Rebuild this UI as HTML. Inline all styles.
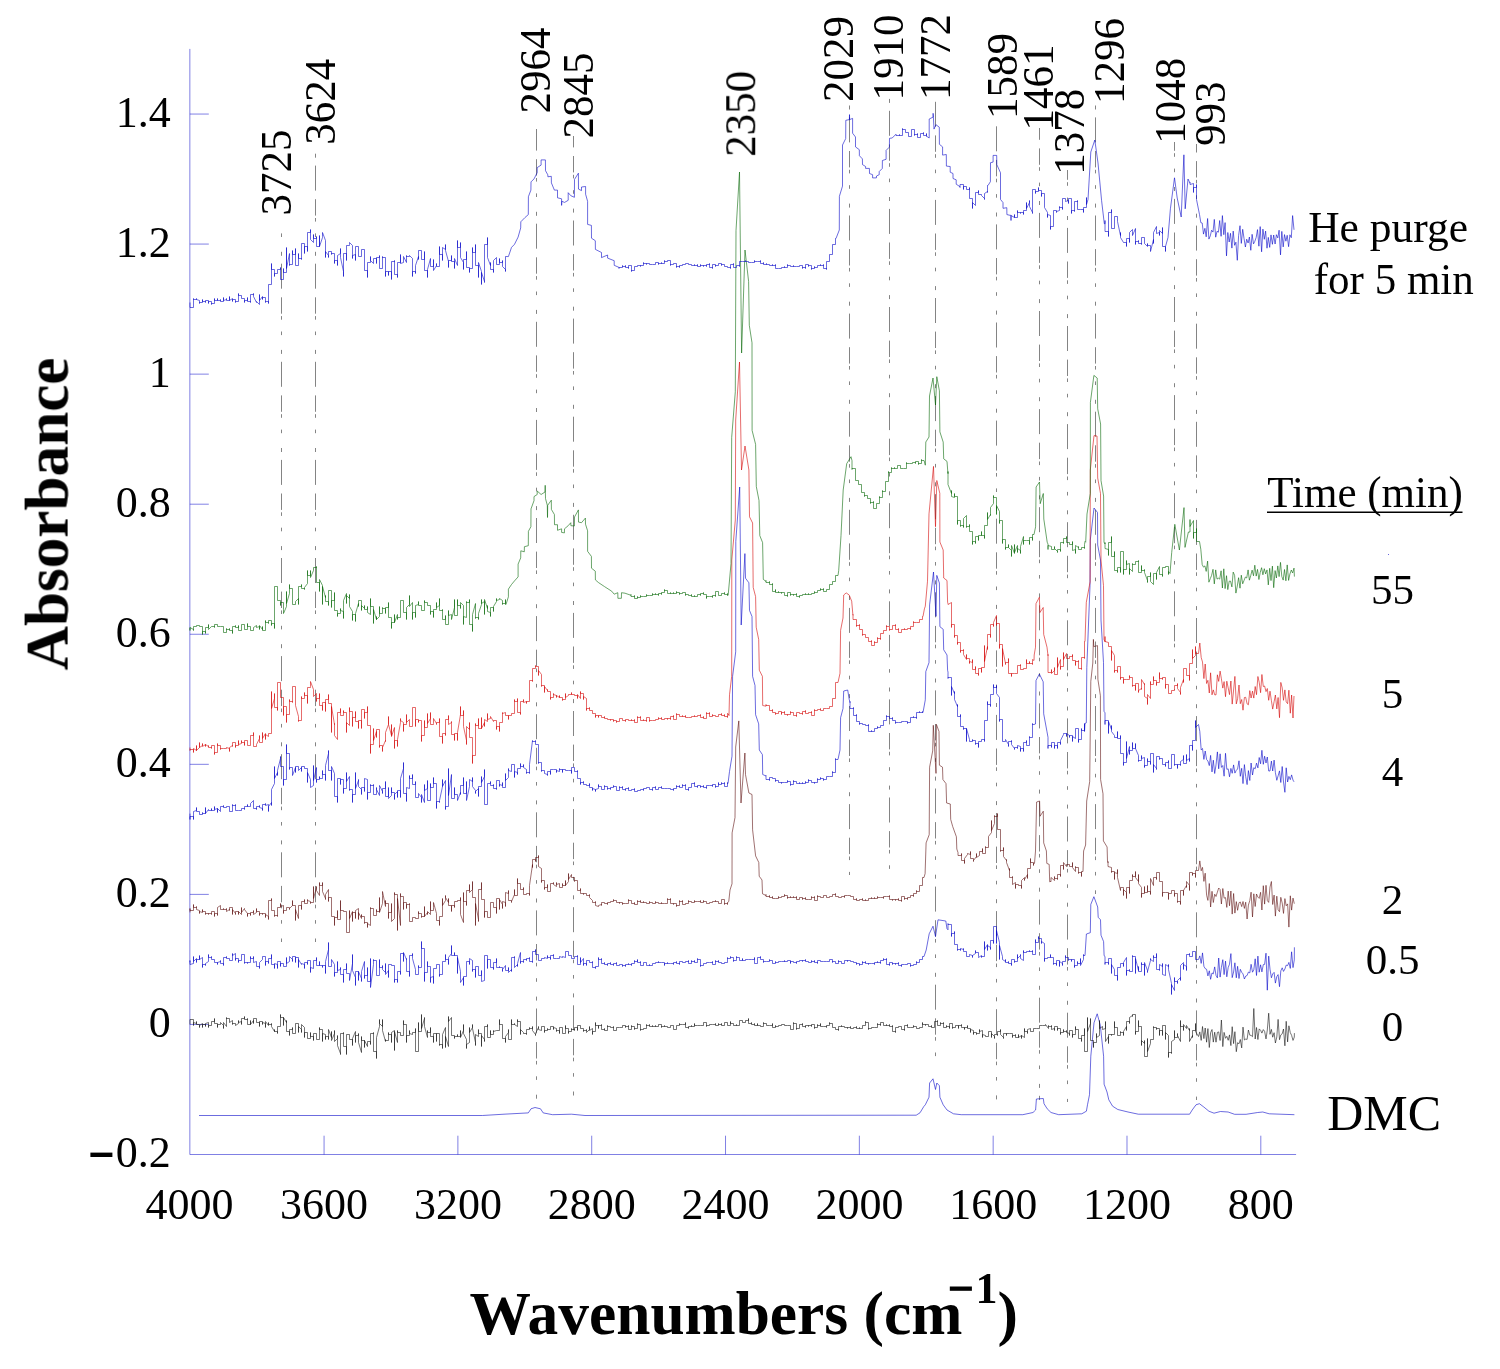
<!DOCTYPE html>
<html><head><meta charset="utf-8"><title>FTIR spectra</title>
<style>
html,body{margin:0;padding:0;background:#fff;overflow:hidden;}
svg{display:block;}
text{font-family:"Liberation Serif",serif;fill:#000;}
.tk{font-size:44px;}
.pk{font-size:43px;}
.sp{fill:none;stroke-width:0.58;stroke-linejoin:miter;}
.ax{fill:none;stroke:#0000c8;stroke-width:0.5;}
.vl{fill:none;stroke:#222;stroke-width:0.56;stroke-dasharray:25 8.6 16.4 2.4 3.6 11.8 3.6 14.8 4 7.9;}
</style></head><body>
<svg width="1500" height="1369" viewBox="0 0 1500 1369">
<rect width="1500" height="1369" fill="#fff"/>
<g class="ax">
<path d="M189.85 48.9V1154.5H1296.1"/>
<path d="M189.9 114.05H208.8M189.9 244.07H208.8M189.9 374.14H208.8M189.9 504.20H208.8M189.9 634.26H208.8M189.9 764.32H208.8M189.9 894.38H208.8M189.9 1024.44H208.8"/>
<path d="M324.07 1154.5V1135.7M457.89 1154.5V1135.7M591.71 1154.5V1135.7M725.53 1154.5V1135.7M859.35 1154.5V1135.7M993.17 1154.5V1135.7M1126.99 1154.5V1135.7M1260.80 1154.5V1135.7"/>
</g>
<g class="vl">
<path d="M281.5 230V942" stroke-dashoffset="64.4"/>
<path d="M315.5 150V942" stroke-dashoffset="82.5"/>
<path d="M536.5 129V1102" stroke-dashoffset="3.4"/>
<path d="M573.5 136V1097" stroke-dashoffset="13.6"/>
<path d="M849.5 103.5V875" stroke-dashoffset="84.2"/>
<path d="M889.5 97V875" stroke-dashoffset="84.3"/>
<path d="M935.5 96V1070" stroke-dashoffset="92.3"/>
<path d="M996.5 125V1100" stroke-dashoffset="96.8"/>
<path d="M1039.5 128V1100" stroke-dashoffset="13.2"/>
<path d="M1067.5 170V1102" stroke-dashoffset="40.2"/>
<path d="M1095.5 103.8V894" stroke-dashoffset="84.5"/>
<path d="M1174.5 142V690" stroke-dashoffset="41.2"/>
<path d="M1196.5 144V1100" stroke-dashoffset="16.5"/>
</g>
<path class="sp" stroke="#0000c8" d="M199 1115.5L482.4 1115.5L504 1114.2L528.3 1112.9L531 1108.8L535 1107.5L540.5 1108.8L543.2 1112.9L552.6 1114.7L571.5 1114.2L585 1115.5L916.2 1115.2L920 1112.8L923.8 1106.5L925.3 1104.8L929 1097.2L929.6 1083L933 1078.8L935.5 1089.5L936.8 1083L939.4 1085.7L939.9 1097.2L943.2 1104.8L947 1110L953.5 1113.8L961.2 1114.7L1022.8 1114.7L1033 1112.5L1035.6 1110L1036.4 1099L1043.3 1098.5L1044 1103.7L1047.2 1108.8L1051 1112.5L1058.7 1114.7L1081.8 1113.8L1086.4 1111.2L1087.5 1104.8L1089.5 1094.7L1090.8 1056.2L1094 1022.8L1097.2 1013.8L1100.3 1025.2L1103.6 1056.2L1104.1 1084.2L1107 1092L1108.8 1099.8L1112.6 1106.2L1117.8 1109.5L1128 1112L1138.3 1114.2L1189.6 1114.2L1192.2 1110L1196 1104.8L1199.4 1103.7L1203.8 1107L1208.9 1111.2L1214 1113.2L1220.4 1111.5L1228.1 1112L1234.6 1114.3L1246.1 1114.3L1257.7 1112.5L1262.8 1112L1269.2 1113.8L1294.4 1114.7"/>
<path class="sp" stroke="#101010" d="M190 1024.4V1019.5H193.5V1025.5V1022.5L196.5 1023.5V1021.5V1024.5H199.5V1027.5V1025.5L202.5 1023.5V1027.5V1024.5H205.5V1026.5V1023.5L208.5 1022.5V1027.5V1025.5H211.5V1021.5H214.5V1018.5V1023.5H217.5V1027.5V1024.5H220.5V1024.5V1022.5L223.5 1025.5V1028.5V1022.5L226.5 1026.5V1017.5V1018.5H229.5V1022.5V1022.5L232.5 1020.5V1024.5V1023.5H235.5V1025.5V1025.5L238.5 1023.5V1020.5V1022.5L241.5 1021.5V1024.5V1018.5L244.5 1018.5V1016.5V1019.5H247.5V1018.5V1024.5H250.5V1020.5V1024.5L253.5 1020.5V1023.5V1018.5H256.5V1022.5H259.5V1026.5V1021.5L262.5 1021.5V1024.5V1022.5L265.5 1023.5V1027.5V1021.5L268.5 1025.5V1022.5V1024.5H271.5V1023.5V1026.5L274.5 1031.5V1029.5V1031.5H277.5V1033.5V1026.5H280.5V1014.5V1017.5H283.5V1025.5V1017.5L286.5 1022.5V1020.5V1031.5H289.5V1035.5V1029.5H292.5V1027.5V1033.5H295.5V1023.5V1023.5H298.5V1032.5V1026.5L301.5 1029.5V1032.5V1024.5L304.5 1027.5V1037.5V1032.5H307.5V1038.5V1038.5H310.5V1032.5V1036.5H313.5V1040.5V1033.5H316.5V1033.5V1039.5H319.5V1027.5V1029.5H322.5V1041.5V1033.5L325.5 1034.5V1039.5V1036.5H328.5V1039.5V1029.5L331.5 1037.5V1031.5V1040.5L334.5 1033.5V1030.5V1041.5L337.5 1038.5V1035.5V1045.5L340.5 1053.5V1054.5V1033.5H343.5V1032.5V1046.5H346.5V1054.5V1034.5H349.5V1039.5H352.5V1045.5V1038.5L355.5 1031.5V1042.5V1035.5H358.5V1033.5V1042.5L361.5 1052.5V1036.5V1040.5H364.5V1047.5V1040.5L367.5 1046.5V1041.5H370.5V1044.5V1033.5H373.5V1032.5V1051.5H376.5V1058.5V1037.5L379.5 1026.5V1019.5V1023.5L382.5 1026.5V1019.5V1030.5L385.5 1041.5V1039.5V1040.5H388.5V1032.5V1034.5H391.5V1042.5V1032.5L394.5 1030.5V1050.5V1031.5L397.5 1042.5V1030.5V1032.5H400.5V1035.5H403.5V1020.5V1024.5H406.5V1042.5V1035.5H409.5V1030.5V1033.5L412.5 1034.5V1032.5H415.5V1028.5V1051.5H418.5V1022.5V1031.5H421.5V1014.5V1028.5L424.5 1018.5V1017.5V1026.5L427.5 1037.5V1030.5V1032.5L430.5 1032.5V1027.5V1036.5H433.5V1042.5V1033.5H436.5V1041.5V1033.5H439.5V1045.5V1044.5H442.5V1048.5V1034.5L445.5 1027.5V1047.5V1036.5L448.5 1046.5V1016.5V1021.5L451.5 1017.5V1035.5V1035.5H454.5V1038.5V1036.5H457.5V1034.5V1036.5L460.5 1036.5V1030.5V1037.5L463.5 1030.5V1024.5V1033.5L466.5 1039.5V1048.5V1044.5L469.5 1042.5V1027.5V1032.5L472.5 1027.5V1024.5V1028.5L475.5 1042.5V1045.5V1034.5L478.5 1036.5V1029.5V1033.5H481.5V1046.5V1035.5L484.5 1039.5V1041.5V1026.5H487.5V1024.5V1037.5H490.5V1030.5V1034.5H493.5V1030.5V1031.5L496.5 1030.5V1030.5V1030.5H499.5V1019.5V1024.5H502.5V1038.5H505.5V1042.5V1036.5L508.5 1032.5V1029.5V1039.5H511.5V1019.5V1024.5H514.5V1023.5V1024.5L517.5 1026.5V1019.5V1021.5L520.5 1021.5V1034.5V1029.5L523.5 1032.5V1033.5H526.5V1034.5V1029.5H529.5V1027.5V1028.5L532.5 1028.5V1026.5V1030.5L535.5 1034.5V1035.5V1033.5L538.5 1027.5V1026.5V1029.5L541.5 1030.5V1030.5V1026.5H544.5V1032.5V1030.5H547.5V1028.5V1029.5H550.5V1029.5V1026.5H553.5V1029.5V1027.5L556.5 1028.5V1031.5V1030.5H559.5V1033.5V1027.5H562.5V1033.5H565.5V1025.5V1028.5H568.5V1033.5V1031.5H571.5V1028.5V1029.5H574.5V1030.5V1027.5H577.5V1030.5V1025.5H580.5V1028.5V1028.5H583.5V1031.5V1030.5H586.5V1029.5V1032.5L589.5 1029.5V1026.5V1030.5L592.5 1028.5V1034.5V1031.5H595.5V1022.5V1025.5H598.5V1028.5V1025.5H601.5V1024.5V1029.5H604.5V1028.5V1030.5H607.5V1025.5V1026.5H610.5V1027.5V1027.5H613.5V1026.5V1030.5H616.5V1030.5V1027.5H619.5V1027.5V1027.5H622.5V1027.5V1025.5H625.5V1027.5V1026.5H628.5V1025.5V1029.5H631.5V1025.5V1026.5H634.5V1029.5V1028.5H637.5V1023.5V1024.5H640.5V1030.5V1029.5H643.5V1029.5V1028.5H646.5V1024.5V1025.5H649.5V1024.5V1026.5H652.5V1025.5V1026.5H655.5V1025.5V1026.5H658.5V1024.5H661.5V1027.5V1026.5H664.5V1025.5V1026.5H667.5V1026.5V1027.5H670.5V1025.5V1025.5H673.5V1029.5H676.5V1029.5V1025.5H679.5V1023.5V1024.5H682.5V1024.5V1024.5H685.5V1022.5V1027.5H688.5V1028.5V1026.5H691.5V1025.5V1026.5H694.5V1023.5V1025.5H697.5V1025.5H700.5V1025.5H703.5V1025.5V1022.5H706.5V1026.5V1025.5H709.5V1024.5V1024.5H712.5V1024.5H715.5V1023.5V1025.5H718.5V1023.5V1024.5H721.5V1023.5V1025.5H724.5V1022.5V1022.5H727.5V1022.5V1025.5H730.5V1021.5V1023.5H733.5V1025.5V1025.5H736.5V1024.5V1025.5H739.5V1020.5H742.5V1020.5V1022.5H745.5V1020.5V1020.5H748.5V1018.5V1023.5H751.5V1022.5V1024.5H754.5V1023.5V1025.5H757.5V1023.5V1025.5H760.5V1026.5H763.5V1022.5V1023.5H766.5V1023.5V1025.5H769.5V1025.5V1025.5H772.5V1023.5V1027.5H775.5V1025.5V1026.5H778.5V1026.5V1025.5H781.5V1024.5H784.5V1025.5H787.5V1025.5V1025.5H790.5V1029.5H793.5V1022.5V1023.5H796.5V1029.5V1028.5H799.5V1024.5V1024.5H802.5V1023.5V1026.5H805.5V1027.5V1025.5H808.5V1026.5V1025.5H811.5V1026.5V1024.5H814.5V1028.5V1027.5H817.5V1024.5V1025.5H820.5V1023.5V1026.5H823.5V1026.5V1026.5H826.5V1027.5V1025.5H829.5V1022.5V1023.5H832.5V1023.5V1027.5H835.5V1027.5V1029.5H838.5V1030.5V1026.5H841.5V1025.5V1026.5H844.5V1027.5H847.5V1028.5V1027.5H850.5V1026.5V1028.5H853.5V1027.5V1027.5H856.5V1026.5V1028.5H859.5V1027.5V1028.5H862.5V1025.5V1025.5H865.5V1021.5V1022.5H868.5V1029.5V1028.5H871.5V1028.5V1027.5H874.5V1027.5V1027.5H877.5V1023.5V1024.5H880.5V1025.5V1022.5H883.5V1022.5V1025.5H886.5V1024.5V1025.5H889.5V1024.5V1026.5H892.5V1025.5V1031.5H895.5V1032.5V1027.5H898.5V1026.5H901.5V1029.5H904.5V1030.5V1025.5H907.5V1024.5V1027.5H910.5V1027.5V1027.5H913.5V1025.5V1026.5H916.5V1026.5V1028.5H919.5V1027.5V1027.5H922.5V1022.5V1024.5H925.5V1025.5V1024.5H928.5V1026.5V1026.5H931.5V1025.5V1027.5H934.5V1021.5V1021.5H937.5V1020.5V1025.5H940.5V1022.5V1023.5H943.5V1022.5V1027.5H946.5V1025.5V1026.5L949.5 1026.5V1028.5V1023.5H952.5V1028.5V1027.5H955.5V1025.5H958.5V1028.5V1025.5H961.5V1024.5V1027.5L964.5 1027.5V1029.5V1027.5H967.5V1025.5V1028.5H970.5V1032.5V1029.5L973.5 1030.5V1034.5V1032.5H976.5V1034.5V1033.5H979.5V1029.5V1031.5L982.5 1030.5V1037.5V1034.5L985.5 1035.5V1036.5V1036.5H988.5V1031.5H991.5V1037.5V1033.5L994.5 1036.5V1038.5V1034.5H997.5V1035.5V1031.5H1000.5V1029.5V1034.5L1003.5 1037.5V1038.5V1033.5H1006.5V1035.5V1033.5H1009.5V1033.5H1012.5V1037.5V1035.5H1015.5V1034.5V1037.5L1018.5 1037.5V1034.5V1037.5L1021.5 1035.5V1038.5V1035.5L1024.5 1037.5V1028.5V1031.5H1027.5V1033.5V1029.5L1030.5 1028.5V1031.5H1033.5V1028.5H1036.5V1028.5H1039.5V1025.5V1025.5H1042.5V1025.5V1025.5H1045.5V1024.5V1024.5L1048.5 1028.5V1025.5V1026.5H1051.5V1025.5V1029.5L1054.5 1028.5V1030.5V1026.5H1057.5V1030.5V1028.5H1060.5V1034.5V1032.5H1063.5V1029.5V1031.5H1066.5V1030.5V1032.5L1069.5 1033.5V1035.5V1030.5L1072.5 1030.5V1037.5V1034.5H1075.5V1026.5V1029.5H1078.5V1038.5V1038.5H1081.5V1041.5V1035.5H1084.5V1028.5V1051.5H1087.5V1017.5V1031.5L1090.5 1023.5V1018.5V1040.5H1093.5V1047.5V1042.5H1096.5V1033.5V1037.5L1099.5 1035.5V1020.5V1028.5L1102.5 1026.5V1028.5V1029.5L1105.5 1028.5V1021.5V1041.5L1108.5 1036.5V1043.5V1034.5H1111.5V1035.5V1034.5H1114.5V1021.5V1027.5H1117.5V1035.5H1120.5V1031.5V1032.5H1123.5V1035.5V1031.5L1126.5 1026.5V1030.5V1021.5H1129.5V1023.5V1017.5L1132.5 1015.5V1016.5V1014.5H1135.5V1034.5V1031.5H1138.5V1020.5V1026.5H1141.5V1045.5V1040.5L1144.5 1043.5V1040.5V1056.5H1147.5V1038.5V1051.5L1150.5 1043.5V1039.5V1039.5H1153.5V1026.5V1027.5H1156.5V1029.5V1028.5H1159.5V1035.5V1030.5H1162.5V1035.5V1025.5H1165.5V1039.5V1032.5L1168.5 1035.5V1057.5V1052.5H1171.5V1053.5V1041.5L1174.5 1039.5V1030.5V1037.5H1177.5V1033.5V1035.5L1180.5 1041.5V1020.5V1026.5H1183.5V1030.5V1024.5L1186.5 1028.5V1026.5V1025.5L1189.5 1030.5V1028.5V1041.5L1192.5 1035.5V1037.5V1030.5H1195.5V1023.5V1031.5L1198.5 1036.5L1199.8 1031.9L1201.2 1040.4L1202.5 1026.5L1203.9 1038.6L1205.2 1028L1206.6 1042.2L1207.9 1028.6L1209.3 1047.5L1210.6 1032.7L1212 1029.5L1213.3 1042.1L1214.7 1032.2L1216 1042.2L1217.4 1032.4L1218.7 1031.9L1220.1 1040.5L1221.4 1020L1222.8 1046.6L1224.1 1032.4L1225.5 1038.3L1226.8 1036.3L1228.2 1040.3L1229.5 1034.9L1230.9 1045.6L1232.2 1026.7L1233.6 1043.6L1234.9 1031.7L1236.3 1051.7L1237.6 1042.7L1239 1043.8L1240.3 1039.5L1241.7 1047.9L1243 1027.1L1244.4 1040L1245.7 1039.1L1247.1 1039.4L1248.4 1030L1249.8 1035.2L1251.1 1035.4L1252.5 1036.7L1253.8 1008.5L1255.2 1039L1256.5 1027.5L1257.9 1039.5L1259.2 1028.9L1260.6 1030.3L1261.9 1033.1L1263.3 1029.6L1264.6 1031.3L1266 1038.9L1267.3 1030L1268.7 1013.2L1270 1034.3L1271.4 1029.4L1272.7 1037.2L1274.1 1032.7L1275.4 1043L1276.8 1037L1278.1 1019.4L1279.5 1039.7L1280.8 1034.9L1282.2 1033.8L1283.5 1029L1284.9 1045.8L1286.2 1021.3L1287.6 1041.9L1288.9 1025.8L1290.3 1032.7L1291.6 1035.3L1293 1040.4L1294.3 1037.1L1294.4 1033.1"/>
<path class="sp" stroke="#0000c8" d="M190 962.3V960.5V964.5L193.5 963.5V956.5V961.5L196.5 958.5V962.5V959.5H199.5V955.5V959.5L202.5 957.5V967.5V964.5H205.5V965.5V963.5L208.5 961.5V954.5V957.5H211.5V956.5V959.5H214.5V962.5H217.5V964.5V962.5L220.5 961.5V960.5V963.5H223.5V965.5V957.5H226.5V956.5V958.5H229.5V958.5V960.5H232.5V953.5V955.5L235.5 953.5V960.5V958.5H238.5V962.5V960.5H241.5V954.5H244.5V963.5V962.5H247.5V963.5V962.5H250.5V956.5V958.5H253.5V956.5V962.5L256.5 961.5V961.5V966.5H259.5V968.5V962.5L262.5 959.5V956.5V956.5H265.5V965.5V961.5H268.5V963.5V958.5H271.5V954.5V964.5H274.5V968.5V963.5L277.5 964.5V968.5V961.5H280.5V966.5V963.5H283.5V966.5H286.5V957.5V963.5L289.5 961.5V961.5V956.5L292.5 959.5V961.5V956.5H295.5V962.5V957.5H298.5V967.5V959.5L301.5 964.5V963.5V963.5L304.5 964.5V968.5V962.5H307.5V964.5V960.5H310.5V972.5V967.5L313.5 968.5V960.5H316.5V957.5V965.5H319.5V961.5V965.5H322.5V967.5V965.5H325.5V973.5V961.5L328.5 949.5V942.5V966.5H331.5V963.5V959.5L334.5 964.5V976.5V972.5H337.5V961.5V970.5L340.5 969.5V967.5V974.5H343.5V982.5V969.5H346.5V963.5V973.5H349.5V973.5V980.5L352.5 963.5V954.5V970.5L355.5 977.5V985.5V971.5H358.5V980.5V971.5L361.5 978.5V981.5V971.5L364.5 961.5V978.5V975.5H367.5V967.5V981.5H370.5V958.5V987.5L373.5 964.5V959.5V960.5H376.5V975.5H379.5V959.5V967.5H382.5V965.5V969.5L385.5 972.5V963.5V974.5L388.5 970.5V977.5V964.5H391.5V965.5H394.5V982.5V979.5H397.5V982.5V971.5H400.5V974.5V953.5H403.5V961.5V952.5L406.5 959.5V958.5V971.5H409.5V976.5V955.5H412.5V953.5V958.5L415.5 969.5V974.5H418.5V965.5V967.5H421.5V941.5V948.5H424.5V981.5V972.5H427.5V961.5V966.5H430.5V982.5V977.5L433.5 976.5V983.5V968.5H436.5V964.5H439.5V976.5V974.5H442.5V961.5H445.5V954.5V959.5H448.5V964.5V957.5L451.5 953.5V945.5V955.5H454.5V952.5V955.5H457.5V973.5V957.5L460.5 971.5V980.5V982.5L463.5 977.5V985.5V976.5H466.5V961.5H469.5V964.5V958.5L472.5 960.5V971.5V969.5H475.5V977.5V966.5L478.5 966.5V975.5V975.5H481.5V970.5V981.5L484.5 980.5V955.5H487.5V968.5V959.5H490.5V959.5V967.5H493.5V969.5V962.5H496.5V958.5V967.5H499.5V966.5V967.5H502.5V971.5V969.5L505.5 965.5V970.5H508.5V967.5V972.5L511.5 969.5V971.5V957.5H514.5V956.5V967.5L517.5 964.5V966.5V963.5L520.5 952.5V963.5V961.5H523.5V962.5V959.5H526.5V960.5V958.5H529.5V957.5V961.5L532.5 961.5V962.5V951.5H535.5V949.5V954.5H538.5V960.5H541.5V960.5V958.5L544.5 958.5V957.5V957.5L547.5 958.5V955.5V957.5H550.5V959.5V955.5H553.5V954.5V958.5H556.5V958.5H559.5V958.5V956.5L562.5 957.5V956.5V956.5L565.5 957.5V951.5V951.5L568.5 951.5V955.5H571.5V958.5V958.5H574.5V958.5V956.5H577.5V955.5V964.5H580.5V957.5V962.5L583.5 958.5V965.5V963.5H586.5V965.5V960.5H589.5V962.5V962.5H592.5V961.5V967.5H595.5V968.5V966.5H598.5V957.5V959.5H601.5V958.5V963.5H604.5V962.5V964.5H607.5V965.5V963.5H610.5V962.5V964.5H613.5V965.5V963.5H616.5V962.5V965.5H619.5V965.5V964.5H622.5V966.5V965.5H625.5V966.5V964.5H628.5V963.5V964.5H631.5V965.5V963.5H634.5V960.5V961.5H637.5V959.5V962.5H640.5V961.5V965.5H643.5V962.5V962.5H646.5V965.5V965.5H649.5V964.5V965.5H652.5V965.5V963.5H655.5V962.5H658.5V961.5V962.5H661.5V962.5V962.5H664.5V965.5V963.5H667.5V962.5V963.5H670.5V963.5V963.5H673.5V964.5V962.5H676.5V961.5V963.5H679.5V964.5V961.5H682.5V961.5V962.5H685.5V962.5V961.5H688.5V960.5V963.5H691.5V960.5V961.5H694.5V960.5V962.5H697.5V958.5V959.5H700.5V966.5V965.5H703.5V963.5V963.5H706.5V962.5V962.5H709.5V962.5V962.5H712.5V961.5V964.5H715.5V960.5V961.5H718.5V960.5V962.5H721.5V962.5V963.5H724.5V962.5V962.5H727.5V957.5V958.5H730.5V956.5V957.5H733.5V961.5V960.5H736.5V956.5V957.5H739.5V957.5V960.5H742.5V958.5V960.5H745.5V959.5H748.5V959.5H751.5V959.5H754.5V957.5V963.5H757.5V957.5H760.5V956.5V959.5H763.5V962.5V961.5H766.5V961.5V961.5H769.5V959.5V960.5H772.5V963.5V963.5H775.5V961.5V962.5H778.5V961.5V961.5H781.5V961.5H784.5V960.5V961.5H787.5V960.5V960.5H790.5V963.5V961.5H793.5V962.5H796.5V963.5V961.5H799.5V960.5V960.5H802.5V961.5V960.5H805.5V959.5V961.5H808.5V961.5V962.5H811.5V960.5V961.5H814.5V960.5V962.5H817.5V963.5V960.5H820.5V961.5V961.5H823.5V961.5V961.5H826.5V961.5H829.5V961.5V959.5H832.5V962.5V961.5H835.5V961.5V963.5H838.5V960.5V961.5H841.5V963.5H844.5V960.5H847.5V961.5V960.5H850.5V960.5V961.5H853.5V962.5V962.5H856.5V964.5V963.5H859.5V965.5V964.5H862.5V961.5V962.5H865.5V961.5V963.5H868.5V964.5V963.5H871.5V963.5V963.5H874.5V964.5V962.5H877.5V961.5V962.5H880.5V963.5V960.5H883.5V958.5V959.5H886.5V958.5V964.5H889.5V965.5V962.5H892.5V964.5V963.5H895.5V964.5V963.5H898.5V962.5V965.5H901.5V966.5V964.5H904.5V964.5V964.5H907.5V964.5V963.5H910.5V966.5V965.5H913.5V964.5H916.5V961.5V962.5H919.5V959.5V959.5H922.5V959.5V956.5H924L926.2 950L929.2 933.8L933 926.2L935.5 936.5L938 919.8L945.8 921L947 928.8L948 929.8V923.5V924.5H951.5V936.5V933.5H954.5V931.5V944.5H957.5V950.5V949.5H960.5V950.5V948.5L963.5 949.5V948.5V951.5H966.5V956.5V956.5H969.5V955.5V954.5L972.5 955.5V957.5V955.5L975.5 953.5V950.5V952.5H978.5V956.5V957.5L981.5 955.5V957.5V956.5H984.5V941.5V949.5L987.5 944.5V950.5V945.5L990.5 947.5V949.5V940.5H993.5V943.5V926.5H996.5V943.5V930.5L999.5 942.5V959.5V945.5L1002.5 956.5V956.5V959.5L1005.5 961.5V959.5V962.5H1008.5V961.5V963.5H1011.5V965.5V959.5H1014.5V962.5V961.5L1017.5 961.5V954.5V958.5L1020.5 955.5V954.5V958.5L1023.5 960.5V950.5V952.5H1026.5V952.5V951.5H1029.5V950.5V951.5H1032.5V950.5V954.5H1035.5V939.5V942.5H1038.5V936.5V938.5H1041.5V943.5V941.5L1044.5 943.5V961.5V958.5H1047.5V957.5V957.5H1050.5V954.5V957.5H1053.5V964.5V963.5H1056.5V965.5V960.5H1059.5V966.5V961.5L1062.5 963.5V965.5V961.5H1065.5V955.5V957.5H1068.5V960.5V959.5L1071.5 959.5V961.5V959.5H1074.5V967.5V965.5H1077.5V961.5V963.5H1080.5V958.5V965.5L1083.5 959.5V954.5V955.5H1085L1086.4 934L1090.3 932.7L1090.8 904.4L1093.9 896.7L1097.7 907L1098.2 917.3L1100.5 919.8L1101 935.2L1103.6 941.6L1104.1 955.7L1105 956.4V964.5V962.5H1108.5V964.5V958.5H1111.5V973.5V964.5L1114.5 969.5V975.5H1117.5V980.5V967.5H1120.5V963.5H1123.5V966.5V962.5L1126.5 957.5V975.5V970.5H1129.5V969.5V971.5H1132.5V955.5V956.5H1135.5V973.5V958.5L1138.5 970.5V966.5V971.5H1141.5V962.5V964.5H1144.5V975.5V962.5L1147.5 970.5V972.5V971.5L1150.5 960.5V958.5V959.5L1153.5 961.5V955.5V957.5H1156.5V953.5V969.5H1159.5V970.5V964.5L1162.5 966.5V963.5V974.5L1165.5 975.5V975.5V964.5L1168.5 966.5V964.5V969.5L1171.5 983.5V994.5V984.5L1174.5 990.5V977.5V981.5H1177.5V983.5V980.5L1180.5 977.5V980.5V965.5L1183.5 962.5V969.5V964.5L1186.5 966.5V970.5V954.5H1189.5V953.5V956.5H1192.5V956.5V951.5H1195.5V959.5H1198.5L1199.8 955.9L1201.2 963.4L1202.5 952.9L1203.9 966.3L1205.2 968.6L1206.6 969.3L1207.9 975.9L1209.3 970.8L1210.6 979.3L1212 972.9L1213.3 973.9L1214.7 966.9L1216 975.4L1217.4 977.9L1218.7 958L1220.1 977.1L1221.4 967.4L1222.8 959.7L1224.1 974.6L1225.5 961.1L1226.8 976.8L1228.2 967.5L1229.5 964.2L1230.9 953.6L1232.2 977.6L1233.6 972L1234.9 962.8L1236.3 977.8L1237.6 966.3L1239 978.5L1240.3 969.3L1241.7 972.3L1243 973.9L1244.4 979L1245.7 976.1L1247.1 975.5L1248.4 972.1L1249.8 972.9L1251.1 964.3L1252.5 972.2L1253.8 969.8L1255.2 958.8L1256.5 975.5L1257.9 956.1L1259.2 972.2L1260.6 964.8L1261.9 971.9L1263.3 964.6L1264.6 964.4L1266 953.2L1267.3 990.2L1268.7 956.1L1270 969.2L1271.4 977.8L1272.7 973.9L1274.1 972.4L1275.4 983.1L1276.8 976.5L1278.1 974.6L1279.5 986.7L1280.8 970.9L1282.2 967.8L1283.5 971.4L1284.9 969L1286.2 965.1L1287.6 965.6L1288.9 962.4L1290.3 968.4L1291.6 951.8L1293 967.6L1294.3 959.9L1294.4 947.3"/>
<path class="sp" stroke="#5a0a0a" d="M190 912.4V908.5V910.5H193.5V904.5V907.5H196.5V906.5V909.5L199.5 910.5V913.5V911.5L202.5 912.5V909.5V911.5H205.5V914.5V913.5H208.5V914.5V913.5H211.5V914.5V911.5H214.5V916.5V913.5H217.5V915.5V907.5L220.5 905.5V909.5V909.5H223.5V908.5V909.5H226.5V908.5V911.5L229.5 909.5V910.5V907.5H232.5V914.5V909.5L235.5 913.5V914.5V911.5H238.5V914.5V911.5L241.5 914.5V907.5V912.5L244.5 908.5V908.5V909.5L247.5 913.5V916.5V913.5H250.5V915.5V912.5H253.5V910.5V914.5L256.5 912.5V908.5V911.5H259.5V915.5V913.5L262.5 913.5V914.5V913.5H265.5V917.5V914.5L268.5 916.5V919.5V900.5H271.5V898.5V910.5H274.5V916.5V915.5L277.5 915.5V916.5V907.5H280.5V903.5V906.5L283.5 905.5V913.5V910.5H286.5V907.5V907.5H289.5V909.5V908.5L292.5 905.5V900.5V905.5H295.5V920.5V909.5L298.5 918.5V905.5V905.5H301.5V909.5V901.5L304.5 901.5V899.5V903.5H307.5V899.5V900.5L310.5 901.5V903.5V902.5H313.5V886.5V898.5L316.5 887.5V886.5V890.5L319.5 895.5V882.5V885.5H322.5V882.5V891.5L325.5 898.5V899.5V894.5L328.5 889.5V901.5V897.5H331.5V916.5H334.5V925.5V917.5H337.5V910.5V919.5H340.5V900.5V910.5H343.5V910.5V911.5L346.5 911.5V932.5H349.5V910.5V918.5L352.5 911.5V921.5V912.5H355.5V918.5V910.5L358.5 908.5V919.5V912.5L361.5 918.5V914.5V916.5H364.5V923.5V922.5H367.5V927.5V923.5L370.5 925.5V907.5V908.5H373.5V915.5H376.5V909.5V911.5H379.5V897.5V912.5L382.5 903.5V895.5V891.5L385.5 906.5V900.5V903.5H388.5V918.5V912.5H391.5V903.5V921.5L394.5 918.5V892.5V894.5H397.5V930.5V898.5L400.5 925.5V893.5V896.5H403.5V909.5V902.5H406.5V908.5V904.5H409.5V903.5V921.5H412.5V917.5H415.5V918.5H418.5V911.5V913.5H421.5V917.5V916.5H424.5V906.5V916.5L427.5 912.5V914.5V911.5L430.5 914.5V901.5V910.5H433.5V907.5V902.5L436.5 913.5V920.5H439.5V925.5V916.5H442.5V898.5V905.5L445.5 900.5V895.5V897.5L448.5 902.5V898.5V905.5H451.5V911.5V905.5H454.5V907.5V901.5H457.5V900.5H460.5V897.5V914.5L463.5 922.5V892.5V901.5H466.5V905.5V890.5H469.5V884.5V892.5L472.5 889.5V881.5V897.5H475.5V925.5V903.5L478.5 919.5V921.5V889.5H481.5V882.5V899.5H484.5V917.5V911.5H487.5V917.5H490.5V902.5H493.5V907.5V907.5H496.5V913.5V898.5H499.5V909.5V899.5L502.5 904.5V908.5V901.5L505.5 902.5V906.5V892.5L508.5 893.5V890.5V900.5H511.5V902.5V901.5L514.5 894.5V889.5V895.5H517.5V878.5V883.5H520.5V889.5H523.5V887.5V894.5H526.5V894.5V893.5H529.5V895.5V885.5L532.5 864.5V867.5V859.5H535.5V861.5V857.5H538.5V855.5V866.5L541.5 868.5V882.5V880.5H544.5V889.5V887.5H547.5V884.5V891.5H550.5V883.5H553.5V882.5V884.5L556.5 886.5V882.5V884.5L559.5 883.5V883.5V887.5H562.5V883.5V885.5L565.5 885.5V880.5V885.5L568.5 881.5V873.5V879.5L571.5 874.5V877.5H574.5V881.5V880.5H577.5V890.5H580.5V888.5V893.5H583.5V894.5V893.5L586.5 893.5V895.5V895.5H589.5V894.5V897.5L592.5 900.5V902.5H595.5V901.5V905.5L598.5 906.5V906.5V905.5L601.5 904.5V905.5V902.5H604.5V902.5V903.5H607.5V904.5V902.5H610.5V901.5V901.5H613.5V899.5V900.5H616.5V900.5V902.5H619.5V903.5V902.5H622.5V904.5V903.5H625.5V903.5V903.5H628.5V899.5V900.5H631.5V903.5V903.5H634.5V902.5V904.5H637.5V900.5V901.5H640.5V900.5V902.5H643.5V901.5V902.5H646.5V903.5H649.5V901.5V902.5H652.5V902.5V903.5H655.5V901.5V902.5H658.5V903.5V903.5H661.5V902.5V903.5H664.5V903.5H667.5V898.5V899.5H670.5V898.5V903.5H673.5V904.5V903.5H676.5V906.5V905.5H679.5V900.5V901.5H682.5V900.5V904.5H685.5V903.5V903.5H688.5V900.5V901.5H691.5V902.5V902.5H694.5V900.5V901.5H697.5V901.5V901.5H700.5V900.5V902.5H703.5V900.5V901.5H706.5V901.5V903.5H709.5V902.5V902.5H712.5V901.5H715.5V900.5V901.5H718.5V901.5V903.5H721.5V903.5V899.5H724.5V904.5V903.5H727.5V904.5V902.5H728L728.8 901.2L730 890L732 883.8L732.1 832.9L735 817.5L735.7 747L738.8 720.9L741 803L744.9 753L745.5 774.6L748.9 793L752 794.5L752.6 829.8L755.6 855.9L758.8 862.5L759.2 876.2L762 880L762.5 893.8L766 895.5V894.5V896.5H769.5V895.5V897.5H772.5V896.5V898.5H775.5V898.5H778.5V896.5V897.5H781.5V896.5H784.5V894.5V895.5H787.5V898.5V897.5H790.5V896.5V897.5H793.5V896.5V897.5H796.5V896.5V899.5H799.5V897.5V897.5H802.5V899.5V898.5H805.5V897.5V899.5H808.5V899.5H811.5V896.5V897.5H814.5V896.5V900.5H817.5V895.5V896.5H820.5V897.5V897.5H823.5V895.5H826.5V895.5V897.5H829.5V896.5V896.5H832.5V896.5V894.5H835.5V893.5V896.5H838.5V896.5V897.5H841.5V897.5V896.5H844.5V897.5V895.5H847.5V895.5H850.5V896.5H853.5V896.5V899.5H856.5V898.5V900.5H859.5V900.5V899.5H862.5V898.5V900.5H865.5V899.5V900.5H868.5V898.5V898.5H871.5V897.5V898.5H874.5V897.5V898.5H877.5V896.5V897.5H880.5V897.5V897.5H883.5V898.5V896.5H886.5V896.5V896.5H889.5V895.5V899.5H892.5V900.5V899.5H895.5V900.5V899.5H898.5V898.5V900.5H901.5V901.5V896.5H904.5V899.5V898.5H907.5V899.5V897.5H910.5V895.5V895.5H913.5V896.5V893.5H916.5V890.5V891.5H919.5V885.5H922.5V877.5V877.5H924L925.1 873.6L926.1 842.9L929.2 834.7L929.6 767.2L932.7 750.9L933.3 725.3L936 773.4L936.4 724.3L939 731.5L939.4 765.2L942.5 767.2L942.9 779.5L946 783.6L946.6 803L950.3 804L950.7 819.4L952.7 826.5L956.4 836.8L956.8 849L958 852.6V855.5H961.5V853.5V860.5L964.5 860.5V863.5V858.5L967.5 854.5V853.5V853.5L970.5 854.5V851.5V858.5H973.5V861.5V860.5L976.5 856.5V853.5V857.5L979.5 855.5V851.5H982.5V848.5V853.5L985.5 853.5V846.5V847.5H988.5V847.5V836.5L991.5 832.5V820.5V830.5L994.5 823.5V815.5V816.5H997.5V813.5V829.5H1000.5V851.5V850.5H1003.5V847.5V856.5L1006.5 860.5V859.5V862.5L1009.5 870.5V868.5V877.5H1012.5V876.5V884.5L1015.5 882.5V888.5V884.5H1018.5V885.5H1021.5V888.5V880.5L1024.5 877.5V880.5V879.5L1027.5 874.5V878.5V868.5H1030.5V858.5V862.5L1033.5 862.5V865.5V863.5L1034 863.5L1034.5 863.4L1035.5 851L1036.6 802L1039.6 801L1040 816.3L1043.3 811.2L1043.7 842.9L1046.4 851L1046.8 863.4L1049.2 864.4L1049.7 881.8L1051 881.3V881.5V877.5L1054.5 880.5V876.5V878.5H1057.5V879.5V874.5H1060.5V876.5V865.5H1063.5V869.5V862.5L1066.5 866.5V864.5H1069.5V866.5V866.5H1072.5V862.5V867.5L1075.5 871.5V866.5V867.5H1078.5V873.5V872.5H1081.5V876.5V871.5H1083L1083.6 851L1085.6 845L1086.7 801L1089.7 781.6L1090.8 681.3L1092.8 663L1093.4 639.4L1093.8 646.6L1097.5 645.6L1097.9 679.3L1100.4 695.7L1100.6 779.5L1103 793.8L1103.4 840.9L1107.1 847L1107.5 861.3L1108 862.6V861.5V866.5L1111.5 867.5V872.5V871.5L1114.5 871.5V879.5V872.5L1117.5 873.5V869.5V877.5L1120.5 890.5V887.5H1123.5V895.5V889.5L1126.5 892.5V898.5V887.5H1129.5V893.5V880.5H1132.5V874.5V876.5H1135.5V871.5V877.5L1138.5 881.5V874.5V883.5L1141.5 887.5V897.5V893.5H1144.5V886.5V892.5H1147.5V885.5V891.5H1150.5V894.5V878.5L1153.5 885.5V877.5H1156.5V879.5V872.5H1159.5V881.5H1162.5V896.5V892.5H1165.5V892.5V892.5H1168.5V899.5V893.5H1171.5V890.5H1174.5V896.5V893.5H1177.5V902.5V901.5H1180.5V904.5V890.5H1183.5V895.5V890.5L1186.5 885.5V887.5V881.5L1189.5 885.5V890.5V872.5H1192.5V875.5V873.5H1195.5V877.5V870.5H1198.5L1199.8 860.9L1201.2 870.8L1202.5 867.4L1203.9 881.4L1205.2 873.2L1206.6 895.2L1207.9 900.4L1209.3 883.5L1210.6 907L1212 891.3L1213.3 902.5L1214.7 894.2L1216 896.5L1217.4 892.1L1218.7 888L1220.1 889.5L1221.4 904L1222.8 888.5L1224.1 898.2L1225.5 897.6L1226.8 907.4L1228.2 891.1L1229.5 905.8L1230.9 891L1232.2 914.1L1233.6 893.5L1234.9 913.1L1236.3 901.6L1237.6 910.3L1239 902.7L1240.3 902L1241.7 906.6L1243 901.5L1244.4 908.4L1245.7 902.2L1247.1 919L1248.4 905.1L1249.8 900.5L1251.1 892.2L1252.5 917L1253.8 893.8L1255.2 906.5L1256.5 894L1257.9 897.1L1259.2 898.4L1260.6 892.3L1261.9 910L1263.3 885.7L1264.6 904.1L1266 885.3L1267.3 900.5L1268.7 902.4L1270 887L1271.4 881.5L1272.7 904.5L1274.1 895.1L1275.4 916.1L1276.8 896.2L1278.1 909.8L1279.5 911.7L1280.8 897.3L1282.2 903L1283.5 913.4L1284.9 898.6L1286.2 905.8L1287.6 903.9L1288.9 927.1L1290.3 895.8L1291.6 910.1L1293 898.1L1294.3 903.7"/>
<path class="sp" stroke="#0000c8" d="M190 813.6V819.5V816.5H193.5V819.5V811.5L196.5 810.5V807.5V811.5H199.5V814.5H202.5V812.5V813.5H205.5V807.5V813.5L208.5 809.5V809.5V810.5H211.5V808.5V810.5L214.5 810.5V806.5V809.5L217.5 808.5V812.5V808.5L220.5 811.5V806.5V806.5H223.5V805.5V807.5H226.5V806.5H229.5V811.5H232.5V804.5V805.5H235.5V804.5V810.5H238.5V810.5H241.5V810.5V808.5H244.5V809.5V806.5H247.5V804.5V806.5H250.5V806.5V803.5L253.5 800.5V808.5V808.5H256.5V809.5V806.5H259.5V805.5V807.5L262.5 808.5V810.5V804.5H265.5V803.5V805.5L268.5 804.5V811.5V806.5L271.5 802.5V805.5V789.5L274.5 783.5V766.5V778.5L277.5 772.5V775.5V770.5L280.5 758.5V756.5V766.5H283.5V785.5V779.5H286.5V744.5V753.5H289.5V769.5V767.5H292.5V767.5V775.5L295.5 767.5V772.5V766.5H298.5V766.5V770.5L301.5 767.5V771.5V766.5H304.5V768.5H307.5V782.5V772.5L310.5 779.5V779.5V787.5L313.5 785.5V765.5V780.5L316.5 767.5V782.5V779.5H319.5V776.5V778.5H322.5V770.5V774.5H325.5V780.5V765.5L328.5 753.5V750.5V770.5H331.5V780.5V766.5L334.5 773.5V796.5H337.5V802.5V778.5H340.5V784.5V779.5H343.5V793.5V788.5H346.5V772.5V781.5L349.5 776.5V790.5V789.5H352.5V802.5V794.5H355.5V772.5V788.5L358.5 780.5V779.5V786.5L361.5 789.5V794.5V787.5H364.5V791.5V778.5L367.5 779.5V799.5V792.5H370.5V784.5V785.5H373.5V784.5V794.5L376.5 794.5V787.5V789.5L379.5 795.5V787.5V785.5L382.5 791.5V793.5V788.5H385.5V781.5V796.5H388.5V787.5V798.5L391.5 795.5V787.5V792.5H394.5V799.5V794.5L397.5 791.5V797.5V790.5H400.5V797.5V778.5L403.5 768.5V762.5V793.5H406.5V801.5V787.5L409.5 788.5V775.5V778.5H412.5V774.5V784.5H415.5V781.5V797.5H418.5V793.5V793.5L421.5 797.5V802.5V794.5L424.5 802.5V784.5V790.5L427.5 788.5V780.5V800.5H430.5V783.5V787.5H433.5V777.5V783.5H436.5V808.5V801.5H439.5V802.5V800.5L442.5 786.5V779.5V786.5L445.5 780.5V809.5V806.5H448.5V768.5V795.5L451.5 774.5V798.5V798.5H454.5V787.5V794.5H457.5V797.5V800.5L460.5 792.5V794.5V785.5H463.5V777.5V793.5H466.5V781.5V800.5L469.5 786.5V786.5V779.5L472.5 781.5V777.5V786.5L475.5 790.5V793.5V791.5L478.5 788.5V796.5V786.5H481.5V776.5V782.5L484.5 776.5V769.5V804.5H487.5V804.5V783.5H490.5V781.5V785.5H493.5V784.5V788.5L496.5 788.5V789.5V780.5H499.5V786.5V784.5L502.5 785.5V782.5V787.5H505.5V773.5V780.5L508.5 777.5V768.5V770.5L511.5 771.5V764.5H514.5V777.5V771.5L517.5 772.5V774.5V768.5H520.5V763.5V766.5H523.5V764.5V767.5L526.5 769.5V773.5V772.5H529.5V773.5V764.5L532.5 740.5V741.5V741.5H535.5V740.5V744.5H538.5V763.5V762.5H541.5V771.5V770.5H544.5V770.5V773.5L547.5 774.5V775.5V771.5H550.5V774.5V769.5H553.5V769.5H556.5V772.5V770.5L559.5 771.5V768.5V769.5H562.5V772.5V769.5H565.5V770.5H568.5V770.5V770.5H571.5V773.5V767.5H574.5V771.5H577.5V770.5V778.5H580.5V784.5V782.5H583.5V781.5V784.5H586.5V785.5V785.5H589.5V783.5V787.5L592.5 787.5V790.5V788.5L595.5 789.5V791.5V789.5L598.5 788.5V784.5V786.5H601.5V786.5V789.5H604.5V785.5V786.5H607.5V789.5V788.5H610.5V789.5V787.5H613.5V785.5V786.5H616.5V790.5H619.5V786.5V787.5H622.5V786.5V789.5H625.5V790.5V788.5H628.5V787.5V790.5H631.5V790.5V789.5H634.5V788.5V791.5H637.5V791.5V790.5H640.5V789.5V789.5H643.5V790.5V788.5H646.5V787.5V787.5H649.5V787.5V789.5H652.5V790.5V787.5H655.5V786.5V789.5H658.5V787.5V787.5H661.5V786.5V788.5H664.5V788.5H667.5V788.5V788.5H670.5V788.5V789.5H673.5V790.5V788.5H676.5V785.5V786.5H679.5V785.5V787.5H682.5V784.5V785.5H685.5V784.5V789.5H688.5V790.5V787.5H691.5V783.5H694.5V782.5V786.5H697.5V787.5V785.5H700.5V787.5V786.5H703.5V785.5V787.5H706.5V788.5V785.5H709.5V785.5H712.5V786.5V784.5H715.5V787.5V786.5H718.5V782.5V784.5H721.5V782.5V783.5H724.5V782.5V786.5H727.5V782.5V783.5H728L729.5 771.5L732 756.2L732.6 676.3L735.7 651.8L735.8 541.4L739.7 487L741.2 625L744.9 553.6L745.5 578.2L748.9 582.8L749.5 610.4L752 616.5L752.6 676.3L755 685.5L755.6 714.7L758.7 723.9L759.3 750L762.4 754.6L762.7 774.5L766 776V775.5V779.5H769.5V780.5V777.5H772.5V778.5H775.5V781.5V780.5H778.5V782.5V782.5H781.5V783.5V782.5H784.5V782.5V782.5H787.5V780.5V781.5H790.5V785.5V784.5H793.5V780.5V781.5H796.5V783.5V783.5H799.5V782.5V783.5H802.5V782.5V783.5H805.5V781.5V782.5H808.5V779.5V780.5H811.5V782.5H814.5V783.5V782.5H817.5V778.5V779.5H820.5V777.5V778.5H823.5V780.5V779.5H826.5V776.5V776.5H829.5V776.5V776.5H832.5V771.5V772.5H835.5V758.5V759.5H838L840 750L840.6 717.7L843 708.5L843.7 691L847.7 690L849.2 699.3L850 702.5V701.5V708.5H853.5V707.5V715.5H856.5V714.5V721.5H859.5V724.5V723.5H862.5V724.5V724.5H865.5V724.5V725.5H868.5V724.5V731.5H871.5V730.5V731.5H874.5V728.5V728.5H877.5V726.5V727.5H880.5V727.5V725.5H883.5V720.5V720.5H886.5V715.5V716.5H889.5V718.5V718.5H892.5V717.5V720.5H895.5V723.5V722.5H898.5V722.5V722.5H901.5V722.5V721.5H904.5V721.5H907.5V723.5V722.5H910.5V717.5V717.5H913.5V716.5V717.5H916.5V718.5V712.5H919.5V711.5V712.5H922.5V711.5V712.5H923L925.3 699.8L925.8 671.6L929 662.6L929.6 604.9L933.5 572L936 616.4L936.8 575.4L939.4 583L939.9 626.7L943.2 629.3L943.7 649.8L947 655L947.6 670.3L948 672.1V678.5V677.5H951.5V695.5V686.5L954.5 693.5V691.5V699.5L957.5 706.5V704.5V716.5H960.5V714.5V726.5H963.5V729.5V728.5H966.5V741.5V728.5L969.5 739.5V741.5H972.5V739.5V740.5H975.5V744.5V743.5H978.5V747.5V741.5H981.5V739.5V739.5L984.5 739.5V741.5V720.5H987.5V701.5V704.5H990.5V706.5V694.5H993.5V684.5V687.5L996.5 687.5V685.5V693.5L999.5 697.5V721.5V719.5H1002.5V719.5V741.5H1005.5V740.5V739.5L1008.5 744.5V746.5V741.5H1011.5V740.5V744.5L1014.5 748.5V749.5V747.5H1017.5V748.5V745.5L1020.5 746.5V751.5V748.5H1023.5V751.5V742.5H1026.5V740.5V745.5H1029.5V736.5V737.5H1032.5V723.5V724.5H1034L1035.5 724L1036 680.5L1039.4 674L1043.2 681.8L1043.7 713.8L1047 731.8L1048 737.3V748.5V745.5H1051.5V747.5V742.5H1054.5V748.5V745.5H1057.5V748.5V742.5H1060.5V744.5V740.5L1063.5 734.5V734.5V733.5H1066.5V736.5V733.5L1069.5 735.5V737.5V735.5L1072.5 735.5V741.5V736.5L1075.5 738.5V728.5H1078.5V742.5V739.5H1081.5V728.5V730.5H1084.5V723.5V731.5L1085 723.5L1086.3 722.8L1086.8 667.7L1090 585.6L1090.3 540L1094 508L1097.5 512.5L1097.7 545L1100.5 560L1101 620L1103.5 662.6L1104 711.3L1105 712.8V724.5V720.5H1108.5V733.5V721.5L1111.5 729.5V725.5V731.5L1114.5 735.5V737.5H1117.5V731.5V738.5H1120.5V735.5V753.5H1123.5V765.5V762.5H1126.5V741.5V758.5L1129.5 746.5V754.5V750.5H1132.5V742.5V748.5H1135.5V743.5V748.5L1138.5 755.5V761.5V760.5H1141.5V755.5V758.5L1144.5 757.5V767.5V765.5H1147.5V758.5V761.5H1150.5V764.5V753.5H1153.5V772.5V764.5L1156.5 768.5V769.5V756.5H1159.5V759.5V758.5H1162.5V764.5H1165.5V766.5V762.5H1168.5V760.5V768.5H1171.5V754.5H1174.5V765.5V764.5H1177.5V768.5V764.5H1180.5V765.5V761.5L1183.5 759.5V755.5V763.5H1186.5V754.5V760.5L1189.5 758.5V761.5V745.5H1192.5V750.5V740.5H1195.5V720.5V727.5L1198.5 724.5L1199.8 731.4L1201.2 749.9L1202.5 748.5L1203.9 759.4L1205.2 751L1206.6 759.5L1207.9 761L1209.3 765.6L1210.6 755.4L1212 771.9L1213.3 760.2L1214.7 773.5L1216 764.9L1217.4 751.9L1218.7 768.8L1220.1 753.8L1221.4 767.4L1222.8 765.5L1224.1 776.2L1225.5 753.3L1226.8 769.3L1228.2 768.9L1229.5 776.8L1230.9 768.4L1232.2 773.3L1233.6 764.9L1234.9 773.1L1236.3 770.3L1237.6 769L1239 760.8L1240.3 776.3L1241.7 768.3L1243 783.6L1244.4 764.6L1245.7 776.5L1247.1 784.6L1248.4 770.6L1249.8 780.5L1251.1 763L1252.5 775L1253.8 767.7L1255.2 768.8L1256.5 763.1L1257.9 767.9L1259.2 757.5L1260.6 763.8L1261.9 750.3L1263.3 764.3L1264.6 756.2L1266 763L1267.3 757L1268.7 771L1270 771L1271.4 761.1L1272.7 771L1274.1 760.1L1275.4 772.6L1276.8 780.3L1278.1 775.9L1279.5 770.9L1280.8 782.5L1282.2 766.5L1283.5 782L1284.9 792.3L1286.2 767.8L1287.6 782L1288.9 776.4L1290.3 779.7L1291.6 774.9L1293 780.1L1294 781.8"/>
<path class="sp" stroke="#d40000" d="M190 747.5V750.5V749.5H193.5V752.5V748.5L196.5 750.5V745.5V750.5L199.5 747.5V742.5V747.5L202.5 745.5V743.5V746.5L205.5 744.5V746.5V744.5L208.5 746.5V745.5V747.5L211.5 747.5V748.5V745.5H214.5V754.5V752.5H217.5V743.5V745.5H220.5V749.5V748.5H223.5V748.5H226.5V747.5V747.5L229.5 748.5V751.5V747.5L232.5 745.5V746.5V742.5H235.5V747.5V745.5H238.5V740.5V744.5L241.5 743.5V740.5V742.5L244.5 742.5V745.5V740.5H247.5V745.5H250.5V735.5H253.5V732.5V746.5H256.5V746.5V744.5L259.5 738.5V735.5V742.5H262.5V732.5V738.5L265.5 733.5V739.5V734.5L268.5 736.5V733.5H271.5V691.5V708.5L274.5 698.5V693.5V707.5H277.5V710.5V682.5H280.5V697.5V697.5H283.5V715.5V706.5H286.5V722.5V714.5H289.5V699.5V701.5H292.5V702.5V686.5H295.5V686.5V705.5L298.5 716.5V721.5V720.5H301.5V696.5V698.5H304.5V692.5V695.5L307.5 695.5V703.5V687.5H310.5V686.5V681.5L313.5 689.5V696.5V696.5L316.5 693.5V701.5V698.5H319.5V693.5V705.5H322.5V710.5V702.5H325.5V711.5V699.5H328.5V694.5V703.5H331.5V732.5V706.5L334.5 724.5V723.5V735.5L337.5 739.5V739.5V712.5H340.5V708.5V715.5H343.5V710.5V712.5H346.5V732.5V722.5L349.5 725.5V707.5V711.5H352.5V726.5V717.5H355.5V711.5V721.5H358.5V728.5V720.5H361.5V728.5V709.5H364.5V718.5V712.5H367.5V706.5V725.5H370.5V753.5V744.5H373.5V728.5V740.5L376.5 731.5V737.5V729.5L379.5 729.5V747.5V745.5H382.5V751.5V747.5L385.5 740.5V741.5V732.5L388.5 724.5V716.5V724.5L391.5 735.5V724.5V736.5L394.5 727.5V748.5V740.5L397.5 740.5V746.5V739.5L400.5 722.5V718.5V720.5L403.5 722.5V731.5V724.5H406.5V714.5V722.5L409.5 719.5V726.5H412.5V726.5V707.5H415.5V726.5V719.5H418.5V722.5V720.5H421.5V741.5V735.5H424.5V720.5V727.5H427.5V713.5V723.5L430.5 718.5V712.5V724.5H433.5V723.5V718.5L436.5 723.5V724.5V722.5H439.5V718.5V736.5H442.5V743.5V733.5H445.5V735.5V719.5H448.5V715.5V724.5L451.5 722.5V721.5V734.5H454.5V740.5V733.5H457.5V740.5V732.5L460.5 714.5V706.5V715.5H463.5V710.5V726.5L466.5 740.5V744.5V726.5L469.5 729.5V722.5V737.5H472.5V763.5V755.5H475.5V723.5V725.5H478.5V718.5V728.5H481.5V717.5V728.5L484.5 722.5V726.5V719.5L487.5 721.5V713.5V719.5L490.5 718.5V716.5V716.5L493.5 721.5V720.5V720.5H496.5V729.5V726.5H499.5V731.5V722.5H502.5V712.5V713.5L505.5 712.5V715.5H508.5V719.5V715.5H511.5V713.5V713.5H514.5V699.5V701.5H517.5V698.5V712.5H520.5V714.5V701.5H523.5V699.5V702.5L526.5 701.5V703.5V701.5H529.5V701.5V680.5H532.5V681.5V668.5H535.5V665.5V666.5L538.5 666.5V675.5V670.5L541.5 674.5V686.5V685.5H544.5V692.5V686.5L547.5 690.5V689.5V691.5H550.5V699.5V697.5H553.5V693.5V694.5L556.5 695.5V697.5V695.5L559.5 697.5V695.5V697.5H562.5V700.5V699.5L565.5 699.5V693.5V697.5L568.5 695.5V694.5V694.5H571.5V692.5V694.5H574.5V694.5V695.5H577.5V698.5V694.5L580.5 698.5V691.5V693.5H583.5V699.5V696.5L586.5 698.5V710.5V708.5H589.5V707.5V710.5H592.5V713.5H595.5V717.5V715.5H598.5V717.5V715.5L601.5 715.5V715.5V717.5H604.5V716.5V718.5H607.5V718.5V719.5H610.5V720.5V719.5H613.5V721.5V720.5H616.5V722.5V721.5H619.5V718.5V718.5H622.5V718.5V720.5H625.5V721.5V719.5H628.5V719.5V720.5H631.5V719.5V720.5H634.5V719.5V722.5H637.5V716.5V717.5H640.5V716.5V720.5H643.5V719.5V720.5H646.5V721.5V717.5H649.5V721.5V720.5H652.5V720.5H655.5V719.5H658.5V717.5V718.5H661.5V717.5V719.5H664.5V718.5V718.5H667.5V719.5V718.5H670.5V719.5V716.5H673.5V715.5V719.5H676.5V713.5V714.5H679.5V716.5V716.5H682.5V715.5V716.5H685.5V715.5V717.5H688.5V717.5V717.5H691.5V716.5V716.5H694.5V715.5V716.5H697.5V716.5V715.5H700.5V714.5V717.5H703.5V716.5V718.5H706.5V712.5V713.5H709.5V712.5V716.5H712.5V714.5V715.5H715.5V716.5V716.5H718.5V714.5V714.5H721.5V713.5V715.5H724.5V714.5V716.5H727.5V717.5V713.5H728L729 715.6L729.5 694.7L731.7 676.3L731.8 560L735.3 520L735.7 420L739.5 362L741.5 470L745 446L748.9 470L749.5 516.8L752.6 523L753.2 587.4L755.6 596.6L756.2 627.2L758.7 639.5L759.3 670.2L762.4 676.3L762.7 705.5L766 706.2V704.5V705.5H769.5V705.5V710.5H772.5V709.5V712.5H775.5V714.5V713.5H778.5V711.5V711.5H781.5V714.5V712.5H784.5V711.5V714.5H787.5V715.5V714.5H790.5V711.5V712.5H793.5V715.5V715.5H796.5V716.5V712.5H799.5V712.5V713.5H802.5V714.5V711.5H805.5V710.5V713.5H808.5V713.5V712.5H811.5V711.5V715.5H814.5V709.5V710.5H817.5V710.5V709.5H820.5V708.5V710.5H823.5V710.5V708.5H826.5V708.5V708.5H829.5V706.5V706.5H832.5V698.5V698.5H835.5V682.5V682.5H838L840 673.3L840.6 630.3L843 618L843.7 595L846.2 592.9L849.2 595L851.7 601.2L852.9 615L853 615.2V614.5V619.5H856.5V626.5V625.5H859.5V624.5V629.5H862.5V635.5V634.5H865.5V637.5H868.5V641.5H871.5V640.5V645.5H874.5V641.5V642.5H877.5V637.5V638.5H880.5V639.5V633.5H883.5V633.5V630.5H886.5V625.5V626.5H889.5V630.5V629.5H892.5V629.5V625.5H895.5V624.5V629.5H898.5V628.5V632.5H901.5V629.5V629.5H904.5V628.5V629.5H907.5V628.5H910.5V629.5V626.5H913.5V621.5V622.5H916.5V622.5V622.5H919.5V619.5V619.5H922.5V616.5V616.5H923L924.4 608.9L925.3 606.2L927.5 581.2L929 513.8L933.5 466.4L935.5 526.7L936.8 480.5L939.8 493.3L939.9 542L943.2 550L943.7 578L947 580.5L947.6 602.3L948 603.8V604.5V604.5L951.5 602.5V627.5V624.5H954.5V637.5V635.5H957.5V644.5V642.5H960.5V652.5V650.5H963.5V649.5V654.5L966.5 659.5V654.5V658.5H969.5V663.5V661.5L972.5 662.5V659.5V669.5H975.5V666.5V673.5H978.5V675.5V668.5H981.5V672.5V667.5H984.5V645.5V661.5L987.5 646.5V649.5V634.5H990.5V637.5V624.5H993.5V626.5V622.5L996.5 615.5V625.5V623.5H999.5V648.5V644.5H1002.5V666.5V648.5L1005.5 663.5V664.5V662.5H1008.5V658.5V673.5H1011.5V676.5V673.5H1014.5V673.5H1017.5V665.5H1020.5V664.5V669.5L1023.5 669.5V668.5H1026.5V659.5V663.5H1029.5V661.5V663.5H1032.5V664.5V659.5L1034 660.5L1034.2 655L1035.5 647.2L1036 603.6L1039.4 597.2L1039.9 612.6L1043.2 607.5L1043.7 634.4L1047 647.2L1048 655.6V654.5V672.5H1051.5V669.5V673.5L1054.5 670.5V667.5V674.5H1057.5V657.5V667.5L1060.5 659.5V669.5V666.5H1063.5V652.5V659.5L1066.5 653.5V658.5V658.5H1069.5V656.5H1072.5V654.5V660.5H1075.5V665.5V661.5H1078.5V660.5V668.5H1081.5V669.5V657.5H1084.5V658.5V641.5H1085L1086.3 602.3L1090.1 581.8L1090.3 470L1094 435.6L1097 436L1097.7 478L1100.5 493.5L1101 560L1103.5 585.6L1104 639.5L1105 641.8V636.5V641.5L1108.5 642.5V646.5H1111.5V660.5V650.5L1114.5 655.5V672.5V670.5H1117.5V672.5V666.5H1120.5V679.5V677.5H1123.5V683.5V679.5H1126.5V679.5H1129.5V675.5V677.5H1132.5V686.5V685.5H1135.5V690.5V683.5H1138.5V692.5V690.5L1141.5 688.5V689.5V679.5L1144.5 684.5V683.5V696.5L1147.5 698.5V704.5V694.5L1150.5 698.5V681.5V684.5H1153.5V676.5V680.5L1156.5 680.5V685.5V682.5H1159.5V672.5V678.5H1162.5V679.5V677.5H1165.5V688.5V684.5H1168.5V693.5H1171.5V690.5H1174.5V685.5H1177.5V683.5V688.5L1180.5 692.5V694.5V687.5L1183.5 679.5V682.5V668.5H1186.5V675.5H1189.5V680.5V663.5H1192.5V649.5V658.5L1195.5 655.5V646.5V653.5H1198.5L1199.8 643L1201.2 657.5L1202.5 662L1203.9 678.6L1205.2 664L1206.6 683.5L1207.9 680.3L1209.3 693L1210.6 672.8L1212 694.8L1213.3 689.9L1214.7 694.8L1216 694.9L1217.4 674.8L1218.7 681.4L1220.1 671.1L1221.4 678.8L1222.8 688.1L1224.1 681.6L1225.5 696.7L1226.8 681.2L1228.2 688L1229.5 694.6L1230.9 681L1232.2 704.1L1233.6 690L1234.9 676.4L1236.3 703.9L1237.6 698.7L1239 685L1240.3 703.7L1241.7 699.5L1243 710.2L1244.4 697.5L1245.7 697.3L1247.1 703.9L1248.4 704.8L1249.8 690.6L1251.1 698L1252.5 691.1L1253.8 698.1L1255.2 686.5L1256.5 694.7L1257.9 676.5L1259.2 682.2L1260.6 692.7L1261.9 674.5L1263.3 686.5L1264.6 686L1266 691.6L1267.3 688.5L1268.7 700.3L1270 691.2L1271.4 700.6L1272.7 709.1L1274.1 701.7L1275.4 695L1276.8 708.9L1278.1 697.5L1279.5 717.7L1280.8 682.4L1282.2 687.8L1283.5 700.3L1284.9 689.9L1286.2 701.8L1287.6 703.7L1288.9 690.2L1290.3 713.2L1291.6 695L1293 718L1294 696"/>
<path class="sp" stroke="#006400" d="M190 627.6V630.5V627.5L193.5 629.5V630.5V626.5H196.5V625.5H199.5V626.5H202.5V634.5V631.5H205.5V633.5V627.5H208.5V624.5V629.5L211.5 626.5V626.5H214.5V627.5V624.5H217.5V626.5H220.5V626.5H223.5V632.5V632.5H226.5V628.5V629.5L229.5 629.5V628.5V630.5H232.5V633.5V626.5H235.5V625.5V627.5H238.5V625.5V630.5H241.5V624.5V624.5H244.5V629.5H247.5V623.5V626.5H250.5V630.5H253.5V630.5V627.5L256.5 625.5V625.5V627.5L259.5 626.5V629.5V625.5L262.5 629.5V626.5V630.5H265.5V620.5V622.5H268.5V623.5V620.5H271.5V625.5V623.5H274.5V628.5V586.5H277.5V600.5H280.5V605.5V602.5H283.5V609.5V613.5L286.5 606.5V591.5V603.5L289.5 593.5V584.5V588.5L292.5 588.5V604.5H295.5V604.5V601.5L298.5 598.5V604.5V586.5H301.5V584.5V588.5H304.5V589.5V587.5L307.5 583.5V570.5V575.5H310.5V570.5V577.5L313.5 570.5V567.5H316.5V566.5V582.5H319.5V591.5V579.5L322.5 585.5V604.5V586.5L325.5 597.5V595.5V601.5H328.5V605.5V590.5H331.5V607.5V600.5H334.5V592.5V610.5H337.5V616.5V613.5H340.5V608.5V610.5L343.5 611.5V618.5V600.5L346.5 593.5V603.5V595.5L349.5 598.5V594.5V606.5L352.5 611.5V620.5V614.5H355.5V621.5V613.5L358.5 603.5V606.5V600.5H361.5V610.5V605.5L364.5 608.5V605.5V609.5H367.5V606.5V612.5L370.5 614.5V598.5V606.5H373.5V623.5V609.5L376.5 619.5V616.5V619.5L379.5 616.5V606.5V613.5H382.5V607.5V608.5H385.5V613.5V607.5H388.5V602.5V617.5H391.5V628.5V622.5H394.5V614.5V622.5L397.5 614.5V619.5V617.5H400.5V617.5V600.5H403.5V612.5H406.5V619.5V607.5L409.5 604.5V595.5V606.5L412.5 602.5V619.5V612.5H415.5V617.5V605.5L418.5 604.5V601.5V605.5H421.5V610.5H424.5V600.5V602.5H427.5V605.5V605.5H430.5V614.5V611.5H433.5V617.5V609.5H436.5V602.5V607.5L439.5 605.5V598.5V610.5H442.5V609.5V619.5H445.5V615.5V624.5L448.5 624.5V610.5V615.5L451.5 614.5V614.5V619.5L454.5 607.5V599.5V615.5H457.5V599.5V605.5H460.5V608.5V602.5L463.5 605.5V624.5V616.5L466.5 617.5V601.5V602.5H469.5V599.5V624.5H472.5V631.5V614.5L475.5 603.5V618.5V617.5H478.5V619.5V613.5L481.5 604.5V599.5V603.5L484.5 601.5V614.5V599.5L487.5 608.5V605.5V611.5L490.5 612.5V616.5V607.5H493.5V611.5V606.5L496.5 601.5V598.5V600.5L499.5 599.5V598.5V598.5L502.5 600.5V604.5V603.5H505.5V599.5V604.5H506L508.4 596.8L508.4 589.1L511.5 584.5L514.5 580.9L518.1 576.9L518.1 564.1L520.7 557.9L520.8 550.8L524.3 551.8L524.4 546.7L528.3 545.7L528.4 531.3L530.9 526.7L531 508.9L534 500.7L534 496.6L537.2 494.5L537.2 491L541.1 494.5L545 492L545.2 485.3L545.4 492L545.5 498.6L547.3 505.3L547.5 517.5L547.7 505.3L551.3 500.2L551.4 509.4L554.4 514.5L554.5 524.7L557.5 524.7L557.5 530.3L561.6 528.8L561.6 532.4L564.4 532.9L564.5 528.8L568.2 525.7L570.8 522.7L570.9 525.7L574.4 526L574.5 517L578.4 509.9L578.5 522.1L581.5 522.7L585.4 518.1L585.5 524.2L587.6 530.8L587.6 551.3L591.4 556.4L591.5 568.2L595.3 571.2L595.4 579.9L598.4 582.5L604.5 586.6L611.7 591.2L614.2 594.2L617.8 592.7L617.9 598.3L621.4 598.3L621.5 592.7L625 593.2L631 595.3V594.5V596.5H634.5V595.5V598.5H637.5V596.5V597.5H640.5V595.5V596.5H643.5V596.5V596.5H646.5V594.5V595.5H649.5V595.5H652.5V593.5V594.5H655.5V593.5V594.5H658.5V595.5V593.5H661.5V594.5V592.5H664.5V589.5V590.5H667.5V590.5V593.5H670.5V592.5V593.5H673.5V592.5V593.5H676.5V591.5V592.5H679.5V594.5V593.5H682.5V592.5V592.5H685.5V595.5V594.5H688.5V595.5V595.5H691.5V594.5V596.5H694.5V595.5V596.5H697.5V594.5V594.5H700.5V595.5V593.5H703.5V592.5V594.5H706.5V598.5V596.5H709.5V596.5V596.5H712.5V597.5V595.5H715.5V596.5V591.5H718.5V595.5H721.5V595.5V593.5H724.5V592.5V594.5H727.5V593.5V595.5H728L728.2 595L731 563.6L731.7 437.4L735.3 391.8L736 230.6L739.5 172L741.6 353L745 250L748.6 281.4L749.3 325.3L752 342.8L752.1 430.4L755.6 444.4L756.3 486.5L759 500.5L759.8 535.6L762.6 542.6L763.3 579.4L766 581.4V580.5V582.5H769.5V581.5V584.5H772.5V583.5V591.5H775.5V589.5V592.5H778.5V591.5V592.5H781.5V593.5V592.5H784.5V595.5H787.5V596.5V592.5H790.5V595.5V594.5H793.5V595.5V594.5H796.5V593.5V596.5H799.5V597.5V595.5H802.5V594.5V594.5H805.5V593.5V594.5H808.5V593.5V594.5H811.5V593.5H814.5V591.5V592.5H817.5V590.5V590.5H820.5V588.5V589.5H823.5V588.5V591.5H826.5V589.5H829.5V589.5V584.5H832.5V584.5V581.5H835.5V575.5V575.5H838L838.7 570.6L841 535.6L843.2 490L846.7 463.7L851 456.7L852 460.7V469.5V468.5H855.5V468.5V480.5H858.5V480.5V484.5H861.5V484.5V492.5H864.5V496.5V495.5H867.5V498.5V498.5H870.5V503.5V502.5H873.5V501.5V508.5H876.5V503.5V503.5H879.5V496.5V497.5H882.5V490.5V491.5H885.5V481.5V481.5H888.5V471.5V472.5H891.5V467.5V468.5H894.5V467.5V468.5H897.5V468.5V465.5H900.5V468.5V468.5H903.5V468.5V468.5H906.5V462.5V463.5H909.5V463.5V463.5H912.5V463.5V462.5H915.5V463.5V461.5H918.5V464.5V463.5H921.5V459.5V460.5H924L924.5 462L925.3 465.2L925.8 442L929 437L929.5 396L933 378L935.5 405L936.8 376.7L939.4 390.8L939.9 431.9L943.2 442.1L943.7 458.8L947 461.4L947.9 473L948 473.6V471.5V484.5L951.5 493.5V490.5V496.5L954.5 497.5V493.5V496.5H957.5V524.5V520.5H960.5V526.5V525.5L963.5 525.5V527.5V518.5L966.5 515.5V527.5V526.5H969.5V524.5V531.5H972.5V544.5V541.5H975.5V543.5V536.5H978.5V540.5V535.5H981.5V531.5V535.5H984.5V538.5V525.5H987.5V512.5V519.5L990.5 514.5V515.5V507.5L993.5 503.5V495.5V497.5H996.5V514.5V505.5L999.5 511.5V523.5V520.5H1002.5V543.5V539.5H1005.5V549.5V547.5H1008.5V544.5V547.5L1011.5 550.5V556.5V545.5L1014.5 553.5V544.5V552.5L1017.5 545.5V552.5V548.5L1020.5 550.5V553.5V546.5L1023.5 536.5V544.5V540.5H1026.5V540.5V540.5H1029.5V544.5V537.5H1032.5V540.5V534.5H1034L1035.6 526.8L1036.1 487L1039.5 482L1040.2 503.7L1043.3 493.5L1043.8 519L1047.2 542.2L1048 544.1V549.5V545.5L1051.5 546.5V546.5V549.5H1054.5V546.5V548.5L1057.5 551.5V552.5V549.5H1060.5V551.5V542.5H1063.5V543.5V538.5H1066.5V536.5V542.5H1069.5V542.5V544.5H1072.5V541.5V550.5L1075.5 549.5V553.5V545.5L1078.5 547.5V546.5V549.5H1081.5V547.5V547.5H1084.5V548.5V544.5L1085 541.5L1085.7 542.2L1087 514L1090.3 493.5L1090.4 402.4L1093.9 375.4L1097.2 378L1097.7 408.8L1100.6 424L1101 480.6L1103.6 496L1104 542.2L1105 543.9V542.5V548.5L1108.5 549.5V555.5V542.5H1111.5V536.5V556.5H1114.5V551.5V570.5H1117.5V572.5V567.5H1120.5V572.5V551.5H1123.5V574.5V569.5H1126.5V560.5V564.5L1129.5 563.5V574.5V568.5L1132.5 571.5V563.5V564.5H1135.5V564.5V561.5H1138.5V560.5V572.5H1141.5V565.5V570.5H1144.5V569.5V572.5L1147.5 580.5V582.5V576.5H1150.5V572.5V581.5L1153.5 584.5V573.5H1156.5V579.5V572.5L1159.5 566.5V574.5V574.5H1162.5V576.5V567.5H1165.5V566.5H1168.5V574.5V571.5L1170 573.5L1171.7 552.5L1174.8 524.3L1179.4 550L1184 507.6L1185 547.4L1188.4 532L1190 532V519.5V526.5L1193.5 520.5V538.5V532.5H1196.5V528.5V541.5H1199.5L1200.8 549.2L1202.2 564.6L1203.5 567.1L1204.9 565.9L1206.2 571.4L1207.6 561.1L1208.9 582.2L1210.3 578.6L1211.6 575.4L1213 569.3L1214.3 583.9L1215.7 569.9L1217 579.1L1218.4 578.2L1219.7 579.1L1221.1 570.8L1222.4 588L1223.8 568.8L1225.1 588.6L1226.5 575.7L1227.8 589.6L1229.2 581.2L1230.5 581.1L1231.9 586.9L1233.2 572.1L1234.6 575.3L1235.9 593.1L1237.3 586L1238.6 577.7L1240 588.2L1241.3 575.2L1242.7 583.8L1244 580.5L1245.4 577L1246.7 578L1248.1 569.9L1249.4 580.2L1250.8 575.3L1252.1 570.1L1253.5 575.8L1254.8 565.2L1256.2 576.1L1257.5 569.4L1258.9 579.5L1260.2 572.6L1261.6 567.7L1262.9 574.8L1264.3 568.7L1265.6 573.9L1267 569.9L1268.3 584.9L1269.7 568.3L1271 580.6L1272.4 566.1L1273.7 587.7L1275.1 570.6L1276.4 578L1277.8 565.9L1279.1 576.6L1280.5 562.4L1281.8 576.4L1283.2 580.1L1284.5 569.5L1285.9 580.8L1287.2 564.9L1288.6 580.4L1289.9 574L1291.3 570L1292.6 573L1294 568.1L1294.4 576.6"/>
<path class="sp" stroke="#0000c8" d="M190 302.5V307.5V307.5H193.5V298.5V299.5H196.5V298.5V299.5L199.5 300.5V303.5V302.5H202.5V299.5V301.5H205.5V302.5V300.5H208.5V303.5V301.5H211.5V304.5V303.5H214.5V298.5V300.5H217.5V298.5V300.5H220.5V299.5V301.5H223.5V297.5V300.5L226.5 299.5V298.5V300.5L229.5 300.5V296.5V300.5L232.5 298.5V301.5V299.5H235.5V302.5V301.5H238.5V293.5V295.5H241.5V298.5V298.5L244.5 298.5V302.5V300.5H247.5V297.5V301.5H250.5V302.5V294.5H253.5V293.5V296.5L256.5 302.5V301.5V301.5L259.5 304.5V294.5V300.5L262.5 296.5V299.5V297.5H265.5V302.5V301.5H268.5V303.5V284.5H271.5V263.5V269.5L274.5 269.5V276.5V273.5L277.5 273.5V269.5H280.5V267.5V279.5H283.5V268.5V272.5H286.5V247.5V268.5L289.5 253.5V265.5V264.5H292.5V250.5V254.5H295.5V248.5V265.5H298.5V253.5V258.5H301.5V259.5V243.5H304.5V253.5V246.5H307.5V251.5V232.5H310.5V229.5V239.5L313.5 242.5V234.5V238.5H316.5V236.5V246.5H319.5V235.5V246.5L322.5 237.5V236.5V232.5L325.5 240.5V257.5V251.5L328.5 255.5V257.5V251.5H331.5V254.5V253.5H334.5V263.5V260.5H337.5V265.5V255.5L340.5 253.5V248.5V257.5L343.5 271.5V276.5V253.5H346.5V260.5V245.5H349.5V244.5V242.5L352.5 245.5V258.5V255.5L355.5 254.5V260.5V246.5H358.5V256.5H361.5V249.5H364.5V270.5H367.5V277.5V262.5H370.5V256.5V260.5L373.5 263.5V258.5V258.5H376.5V263.5V257.5H379.5V255.5V268.5H382.5V256.5V257.5H385.5V276.5V271.5H388.5V275.5V271.5H391.5V279.5V261.5H394.5V260.5V274.5H397.5V277.5V262.5H400.5V254.5V263.5L403.5 262.5V257.5V256.5L406.5 262.5V255.5V256.5H409.5V255.5V255.5L412.5 258.5V276.5V271.5H415.5V273.5V265.5L418.5 256.5V259.5V250.5H421.5V259.5H424.5V251.5V270.5H427.5V277.5V269.5L430.5 258.5V266.5H433.5V259.5V270.5L436.5 265.5V263.5V266.5H439.5V246.5V254.5H442.5V260.5V247.5L445.5 249.5V244.5V250.5L448.5 261.5V267.5V260.5H451.5V255.5V261.5H454.5V268.5V258.5L457.5 265.5V240.5V247.5H460.5V242.5V257.5L463.5 262.5V269.5V259.5H466.5V251.5V267.5H469.5V272.5V268.5H472.5V247.5V252.5H475.5V244.5V265.5H478.5V277.5V262.5L481.5 271.5V284.5V272.5L484.5 281.5V282.5V244.5H487.5V237.5V257.5L490.5 265.5V262.5V269.5L493.5 269.5V272.5V260.5L496.5 257.5V264.5H499.5V258.5V262.5H502.5V260.5V266.5L505.5 269.5V271.5V256.5H506L508.4 256.6L511.5 247.4L514.5 244.3L518.1 237.1L520.7 227.9L520.8 221.8L524.8 217.7L528.3 214.6L528.4 196.7L530.9 190.1L531 181.9L534 178.9L537.2 172.7L537.2 167.6L541.1 165.1L541.1 159.9L545.4 159.9L545.5 170.7L547.8 174.8L547.9 176.8L551.3 176.3L551.4 182.9L554.4 190.1L557.5 190.1L557.5 197.8L561.6 198.8L561.6 205.4L561.8 201.3L564.6 202.4L568.2 200.3L568.2 192.7L570.8 195.7L574.4 197.3L574.5 179.4L578.4 173.2L578.5 189.1L581.5 190.6L581.5 187L585.6 186.5L585.6 194.2L587.6 201.3L587.6 224.4L591.4 225.4L591.5 238.2L595.3 240.7L595.4 249.4L601.5 252.5L601.5 257.6L607.6 255L607.6 258.1L614.2 260.7L614.2 265.3L618.8 267.3L619 267.3V268.5V267.5H622.5V265.5V266.5H625.5V265.5V267.5H628.5V268.5V265.5H631.5V271.5V270.5H634.5V266.5V266.5H637.5V265.5H640.5V266.5V265.5H643.5V262.5V263.5H646.5V264.5V263.5H649.5V263.5V264.5H652.5V264.5V264.5H655.5V262.5H658.5V264.5V263.5H661.5V262.5V263.5H664.5V260.5V261.5H667.5V260.5V260.5H670.5V265.5V264.5H673.5V263.5H676.5V267.5V266.5H679.5V267.5V265.5H682.5V265.5V264.5H685.5V264.5V263.5H688.5V263.5V264.5H691.5V264.5V265.5H694.5V264.5V265.5H697.5V264.5V266.5H700.5V264.5V265.5H703.5V266.5V265.5H706.5V266.5V264.5H709.5V263.5V267.5H712.5V268.5V264.5H715.5V266.5V265.5H718.5V265.5V263.5H721.5V265.5V264.5H724.5V264.5V266.5H727.5V266.5V267.5H730.5V268.5V264.5H733.5V263.5V267.5H736.5V267.5V265.5H739.5V266.5V261.5H742.5V261.5V261.5H745.5V260.5V261.5H748.5V262.5H751.5V262.5V262.5H754.5V260.5V261.5H757.5V261.5V261.5H760.5V260.5V263.5H763.5V262.5V264.5H766.5V263.5V264.5H769.5V264.5V265.5H772.5V264.5V265.5H775.5V264.5V268.5H778.5V268.5V268.5H781.5V267.5V267.5H784.5V266.5V267.5H787.5V264.5V265.5H790.5V265.5V266.5H793.5V265.5V266.5H796.5V266.5V266.5H799.5V265.5V265.5H802.5V268.5V267.5H805.5V268.5V264.5H808.5V266.5V265.5H811.5V269.5V268.5H814.5V266.5V267.5H817.5V267.5V265.5H820.5V264.5V265.5H823.5V264.5V268.5H826.5V269.5V261.5H829.5V254.5V254.5H832.5V244.5V244.5H835.5V238.5V238.5H836L839.3 230L839.4 196.3L842.5 186.1L842.5 145L845.7 138.6L845.8 120.3L849.4 119.6L849.5 114.6L849.6 119.6L852.6 118.4L852.6 133.2L855.5 137L855.5 146.9L859.3 149.7L859.4 155.7L862.4 158.9L862.5 164.6L865.6 166.5L865.6 168.4L869.4 168.4L869.5 173.5L872.6 174.7L872.6 177.9L876.4 177.9L876.5 176L879.2 174.7L879.2 171.6L882.3 168.4L882.4 160.5L886.1 159.3L886.1 150.4L889.4 147.1L889.5 138.3L892.2 138L896 134.2L896 134.2V134.5V135.5H899.5V134.5V135.5H902.5V128.5V129.5H905.5V132.5H908.5V132.5V136.5H911.5V136.5V129.5H914.5V135.5V134.5H917.5V133.5V137.5H920.5V133.5V133.5H923.5V132.5V135.5H926.5V133.5V136.5H927L929.2 138L929.2 119L933.1 117.1L933.1 113.3L933.4 117.1L934 129.1L935.9 124.7L939.3 127.2L939.4 144.3L942.6 146.9L942.6 155.1L946.3 154.5L946.4 166.1L950.2 166.5L950.2 172.2L953 173.5L953 178.5L956.2 179.8L956.2 184.2L960 186.7V187.5V184.5H963.5V189.5V186.5H966.5V186.5V189.5H969.5V187.5V198.5H972.5V208.5V202.5L975.5 205.5V205.5V192.5H978.5V190.5V194.5H981.5V194.5V195.5L984.5 198.5V199.5V193.5L987.5 191.5V192.5V185.5H988L990.4 181.7L990.5 162.7L993.1 162.1L993.1 155.4L996.7 155.4L996.8 164.6L1000.5 172.8L1000.5 199.4L1003 202.6L1003 208.3L1006.8 207.7L1006.9 214.6L1010 215.3L1011 215.3V220.5V215.5L1014.5 217.5V214.5V217.5L1017.5 217.5V210.5V212.5H1020.5V213.5V212.5H1023.5V214.5V210.5H1026.5V202.5V208.5L1029.5 202.5V200.5V206.5L1032.5 212.5V213.5V189.5H1035.5V193.5V191.5H1038.5V187.5V190.5H1041.5V196.5V193.5H1044.5V193.5V207.5L1047.5 212.5V217.5V214.5L1050.5 215.5V229.5V226.5H1053.5V226.5V210.5H1056.5V212.5V211.5L1059.5 210.5V206.5V207.5L1062.5 207.5V209.5V198.5H1065.5V200.5V201.5L1068.5 200.5V203.5V198.5L1071.5 198.5V213.5V210.5H1074.5V211.5V201.5H1077.5V200.5V209.5H1080.5V209.5H1083.5V212.5V207.5L1086.5 207.5V197.5V204.5L1088 199.5L1090.8 152L1094.8 140L1098 163L1101.6 200.7L1104.3 223.7L1105 223.8V220.5V231.5H1108.5V236.5V212.5H1111.5V209.5V228.5H1114.5V216.5V216.5H1117.5V216.5V221.5L1120.5 235.5V232.5V237.5L1123.5 242.5V242.5V242.5H1126.5V246.5V238.5H1129.5V242.5V232.5L1132.5 229.5V231.5V235.5L1135.5 228.5V244.5V241.5H1138.5V240.5V243.5H1141.5V244.5V237.5H1144.5V237.5V243.5L1147.5 246.5V243.5V245.5H1150.5V247.5V251.5L1153.5 239.5V243.5V232.5L1156.5 226.5V226.5V233.5L1159.5 232.5V235.5V230.5L1162.5 233.5V227.5V246.5H1165.5V251.5V246.5L1168 237.5L1170.4 208.8L1174.5 177.8L1177.2 198L1181.2 217L1183.9 154.8L1185.2 208.8L1188 179L1190 183.1V182.5V184.5L1193.5 183.5V192.5V187.5H1196.5V184.5V199.5L1199.5 214.5L1200.8 222.6L1202.2 223L1203.5 234.1L1204.9 228.3L1206.2 236.8L1207.6 218.5L1208.9 239.1L1210.3 235.9L1211.6 230.2L1213 232.1L1214.3 219.4L1215.7 237.2L1217 231.3L1218.4 232.2L1219.7 220.5L1221.1 236.3L1222.4 215.6L1223.8 234.7L1225.1 222.6L1226.5 255.9L1227.8 232.5L1229.2 242L1230.5 233.3L1231.9 248.1L1233.2 231.1L1234.6 245.3L1235.9 242.2L1237.3 260.3L1238.6 235.6L1240 225.7L1241.3 243.4L1242.7 229.3L1244 238.3L1245.4 247L1246.7 239.2L1248.1 243L1249.4 237L1250.8 250.3L1252.1 234.3L1253.5 243.9L1254.8 241.4L1256.2 237.4L1257.5 229.6L1258.9 246.2L1260.2 226.6L1261.6 251.8L1262.9 229.1L1264.3 239.3L1265.6 231.1L1267 248.2L1268.3 237.4L1269.7 247.4L1271 234.9L1272.4 244.3L1273.7 235L1275.1 244L1276.4 234.7L1277.8 237.9L1279.1 230.2L1280.5 254.9L1281.8 231.4L1283.2 246.9L1284.5 234.6L1285.9 241.2L1287.2 235.3L1288.6 246.7L1289.9 234.8L1291.3 237.7L1292.6 215.6L1294 229.8"/>
<g opacity="0.999">
<text class="tk" transform="translate(170.8 127) scale(1 1.03)" text-anchor="end">1.4</text>
<text class="tk" transform="translate(170.8 257) scale(1 1.03)" text-anchor="end">1.2</text>
<text class="tk" transform="translate(170.8 387) scale(1 1.03)" text-anchor="end">1</text>
<text class="tk" transform="translate(170.8 517.1) scale(1 1.03)" text-anchor="end">0.8</text>
<text class="tk" transform="translate(170.8 647.2) scale(1 1.03)" text-anchor="end">0.6</text>
<text class="tk" transform="translate(170.8 777.2) scale(1 1.03)" text-anchor="end">0.4</text>
<text class="tk" transform="translate(170.8 907.3) scale(1 1.03)" text-anchor="end">0.2</text>
<text class="tk" transform="translate(170.8 1037.3) scale(1 1.03)" text-anchor="end">0</text>
<text class="tk" transform="translate(170.8 1166.9) scale(1 1.03)" text-anchor="end">0.2</text>
<rect x="90.4" y="1152.6" width="22" height="4.4" fill="#000"/>
<text class="tk" transform="translate(189.5 1218.8) scale(1 1.03)" text-anchor="middle">4000</text>
<text class="tk" transform="translate(324.1 1218.8) scale(1 1.03)" text-anchor="middle">3600</text>
<text class="tk" transform="translate(457.9 1218.8) scale(1 1.03)" text-anchor="middle">3200</text>
<text class="tk" transform="translate(591.7 1218.8) scale(1 1.03)" text-anchor="middle">2800</text>
<text class="tk" transform="translate(725.5 1218.8) scale(1 1.03)" text-anchor="middle">2400</text>
<text class="tk" transform="translate(859.4 1218.8) scale(1 1.03)" text-anchor="middle">2000</text>
<text class="tk" transform="translate(993.2 1218.8) scale(1 1.03)" text-anchor="middle">1600</text>
<text class="tk" transform="translate(1127 1218.8) scale(1 1.03)" text-anchor="middle">1200</text>
<text class="tk" transform="translate(1260.8 1218.8) scale(1 1.03)" text-anchor="middle">800</text>
<text class="pk" transform="translate(291 215.4) rotate(-90) scale(1 1.045)">3725</text>
<text class="pk" transform="translate(334.5 144.7) rotate(-90) scale(1 1.045)">3624</text>
<text class="pk" transform="translate(550 113.5) rotate(-90) scale(1 1.045)">2964</text>
<text class="pk" transform="translate(592.5 138.6) rotate(-90) scale(1 1.045)">2845</text>
<text class="pk" transform="translate(755 156.8) rotate(-90) scale(1 1.045)">2350</text>
<text class="pk" transform="translate(853.4 102.1) rotate(-90) scale(1 1.045)">2029</text>
<text class="pk" transform="translate(902.7 100.5) rotate(-90) scale(1 1.045)">1910</text>
<text class="pk" transform="translate(949.6 100.1) rotate(-90) scale(1 1.045)">1772</text>
<text class="pk" transform="translate(1017 119.1) rotate(-90) scale(1 1.045)">1589</text>
<text class="pk" transform="translate(1052.9 130.4) rotate(-90) scale(1 1.045)">1461</text>
<text class="pk" transform="translate(1084 174.7) rotate(-90) scale(1 1.045)">1378</text>
<text class="pk" transform="translate(1124.1 104.1) rotate(-90) scale(1 1.045)">1296</text>
<text class="pk" transform="translate(1184.9 143.8) rotate(-90) scale(1 1.045)">1048</text>
<text class="pk" transform="translate(1224.5 146) rotate(-90) scale(1 1.045)">993</text>
<text transform="translate(67.6 670.3) rotate(-90)" font-size="61.2" font-weight="bold">Absorbance</text>
<text x="469.6" y="1334" font-size="61.4" font-weight="bold">Wavenumbers (cm</text>
<rect x="949.8" y="1286.5" width="22.1" height="4.3" fill="#000"/>
<text x="975.6" y="1302.9" font-size="44" font-weight="bold">1</text>
<text x="997.6" y="1334" font-size="61.4" font-weight="bold">)</text>
<text x="1308.2" y="242.4" font-size="43.5">He purge</text>
<text x="1313.8" y="293.5" font-size="43.5" textLength="160" lengthAdjust="spacingAndGlyphs">for 5 min</text>
<text x="1267.3" y="507.2" font-size="43.5" textLength="195.5" lengthAdjust="spacingAndGlyphs">Time (min)</text>
<rect x="1267" y="511.5" width="195.5" height="1.5" fill="#000"/>
<rect x="1388" y="554" width="1" height="1" fill="#6666dd"/>
<text x="1392.5" y="604" font-size="43" text-anchor="middle">55</text>
<text x="1392.5" y="708.4" font-size="43" text-anchor="middle">5</text>
<text x="1392.5" y="785.6" font-size="43" text-anchor="middle">4</text>
<text x="1392.5" y="914.4" font-size="43" text-anchor="middle">2</text>
<text x="1392.5" y="973.7" font-size="43" text-anchor="middle">0.5</text>
<text x="1392.5" y="1041" font-size="43" text-anchor="middle">0</text>
<text x="1327.2" y="1129.8" font-size="50">DMC</text>
</g>
</svg>
</body></html>
